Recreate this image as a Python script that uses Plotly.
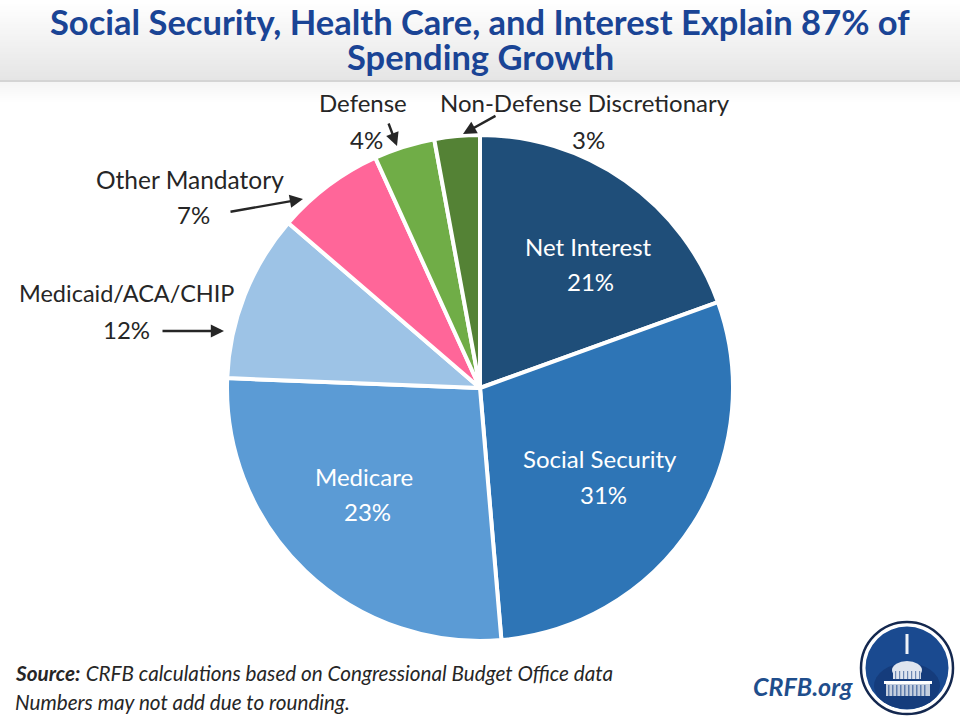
import plotly.graph_objects as go

W, H = 960, 720

categories = ["Net Interest", "Social Security", "Medicare", "Medicaid/ACA/CHIP",
              "Other Mandatory", "Defense", "Non-Defense Discretionary"]
# slice sizes as drawn (the printed labels do not quite agree with the wedges)
slice_sizes = [19.5, 29.2, 27.0, 10.7, 6.9, 3.9, 2.9]
printed_pct = ["21%", "31%", "23%", "12%", "7%", "4%", "3%"]
slice_colors = ["#1f4e79", "#2e75b6", "#5b9bd5", "#9dc3e6", "#ff6699", "#70ad47", "#548235"]

title_lines = ["Social Security, Health Care, and Interest Explain 87% of", "Spending Growth"]
source_note = "<b><i>Source:</i></b> <i>CRFB calculations based on Congressional Budget Office data</i>"
rounding_note = "<i>Numbers may not add due to rounding.</i>"


def px(x):
    return x / W


def py(y):
    return 1 - y / H


fig = go.Figure()

fig.add_trace(
    go.Pie(
        values=slice_sizes,
        labels=categories,
        sort=False,
        direction="clockwise",
        rotation=0,
        textinfo="none",
        hoverinfo="label",
        marker={"colors": slice_colors, "line": {"color": "white", "width": 4}},
        domain={"x": [px(227), px(733)], "y": [py(641), py(135)]},
        showlegend=False,
    )
)

shapes = []


def band(y0, y1, fill):
    shapes.append(dict(type="rect", xref="paper", yref="paper", x0=0, x1=1,
                       y0=py(y1), y1=py(y0), line_width=0, layer="below", fillcolor=fill))


# header band, white fading to light grey, then a soft shadow under it
for i in range(40):
    shade = 255 - int(i * 26 / 39)
    band(2 * i, 2 * i + 2, f"rgb({shade},{shade},{shade})")
band(80, 82, "#d4d4d4")
for i in range(10):
    shade = 245 + i
    band(82 + 2 * i, 84 + 2 * i, f"rgb({shade},{shade},{shade})")


def ellipse(cx, cy, rx, ry, fill, line=None, width=0):
    shapes.append(dict(type="circle", xref="paper", yref="paper",
                       x0=px(cx - rx), x1=px(cx + rx), y0=py(cy + ry), y1=py(cy - ry),
                       fillcolor=fill, line={"color": line or fill, "width": width}))


def box(x0, y0, x1, y1, fill):
    shapes.append(dict(type="rect", xref="paper", yref="paper",
                       x0=px(x0), x1=px(x1), y0=py(y1), y1=py(y0),
                       fillcolor=fill, line_width=0))


# logo: ring, blue disc, capitol dome
ellipse(907, 668, 46, 46, "white", "#14284f", 2.5)
ellipse(907, 668, 41.5, 41.5, "#1a4a90")
ellipse(907, 686, 33, 23, "#153c7c")
box(905.5, 634, 908.5, 654, "#eef2f8")
ellipse(907, 670, 15, 9, "#dfe5ef")
box(893, 670, 921, 679, "#dfe5ef")
box(884, 681, 932, 684, "#ffffff")
box(886, 684, 930, 696, "#c4cede")
for bx in range(888, 928, 4):
    box(bx, 685, bx + 1.5, 696, "#5f7cab")
for bx in range(895, 921, 4):
    box(bx, 671, bx + 1.2, 679, "#6f89b3")

fig.update_layout(shapes=shapes)

BODY = "Lato, Open Sans, sans-serif"


def label(x, y, text, size=24, color="#262626", anchor="center"):
    fig.add_annotation(xref="paper", yref="paper", x=px(x), y=py(y), text=text, showarrow=False,
                       xanchor=anchor, yanchor="middle", align="center",
                       font={"size": size, "color": color, "family": BODY})


def arrow(x0, y0, x1, y1):
    fig.add_annotation(xref="paper", yref="paper", axref="pixel", ayref="pixel",
                       x=px(x1), y=py(y1), ax=x0 - x1, ay=y0 - y1, text="",
                       showarrow=True, arrowhead=2, arrowsize=1.1, arrowwidth=2.4,
                       arrowcolor="#262626", standoff=0)


label(480, 21, f"<b>{title_lines[0]}</b>", size=34.5, color="#1a4495")
label(480, 57, f"<b>{title_lines[1]}</b>", size=34.5, color="#1a4495")

label(588, 246, categories[0], color="white")
label(590, 282, printed_pct[0], color="white")
label(600, 459, categories[1], color="white")
label(603, 494, printed_pct[1], color="white")
label(364, 476, categories[2], color="white")
label(367, 511, printed_pct[2], color="white")

label(126, 293, categories[3], size=23.5)
label(126, 330, printed_pct[3])
label(190, 179, categories[4], size=24.5)
label(193, 214, printed_pct[4])
label(363, 103, categories[5])
label(366, 139, printed_pct[5])
label(585, 103, categories[6])
label(588, 139, printed_pct[6])

arrow(161, 331, 224, 331)
arrow(229, 212, 303, 199)
arrow(388, 122, 397, 146)
arrow(497, 115, 463, 134)

label(13, 673, source_note, size=20.7, anchor="left")
label(13, 702, rounding_note, size=20.7, anchor="left")
label(803, 686, "<b><i>CRFB.org</i></b>", size=25, color="#1f4e8c")

fig.update_layout(
    width=W,
    height=H,
    margin={"l": 0, "r": 0, "t": 0, "b": 0},
    paper_bgcolor="white",
    plot_bgcolor="white",
)

# the default page margin would push the figure 8px in
fig.write_html("out.html", config={"displayModeBar": False},
               post_script="document.body.style.margin='0';")
